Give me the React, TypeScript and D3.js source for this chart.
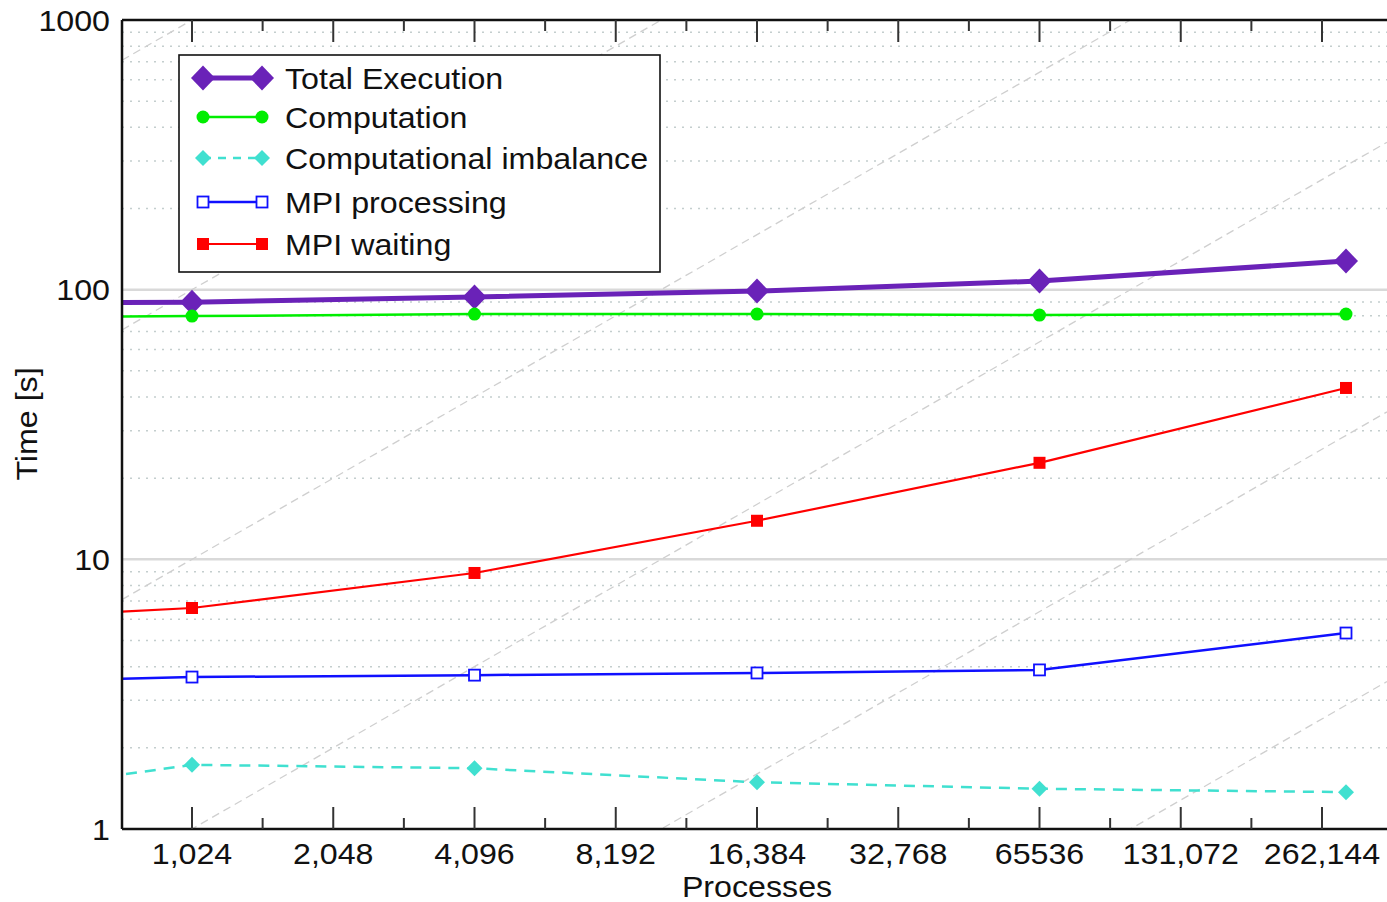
import React from "react";
import * as d3 from "d3";

// Process counts of the runs (the 512 run sits left of the visible range)
const processes = [512, 1024, 4096, 16384, 65536, 294912];

// Time breakdown per run, in seconds
const totalExecution = [89.2, 89.9, 93.9, 98.8, 107.6, 127.7];
const computation = [79.3, 79.8, 81.2, 81.2, 80.5, 81.2];
const imbalance = [1.46, 1.73, 1.68, 1.49, 1.41, 1.37];
const mpiProcessing = [3.55, 3.66, 3.72, 3.79, 3.89, 5.33];
const mpiWaiting = [6.2, 6.6, 8.9, 13.9, 22.8, 43.2];

// Axis ticks
const xMajorTicks = [1024, 2048, 4096, 8192, 16384, 32768, 65536, 131072, 262144];
const xTickLabels = ["1,024", "2,048", "4,096", "8,192", "16,384", "32,768", "65536", "131,072", "262,144"];
const yMajorTicks = [1, 10, 100, 1000];
const yTickLabels = ["1", "10", "100", "1000"];

// Linear-scaling guide lines: time = factor * P / 1024
const guideFactors = [0.01, 0.1, 1, 10, 100, 1000];

const W = 1387;
const H = 902;
const left = 122;
const right = 1387;
const top = 20;
const bottom = 829;

const pxPerDoubling = 141.25;
const x = d3
  .scaleLog()
  .base(2)
  .domain([
    1024 * Math.pow(2, (left - 192) / pxPerDoubling),
    1024 * Math.pow(2, (right - 192) / pxPerDoubling),
  ])
  .range([left, right]);
const y = d3.scaleLog().domain([1, 1000]).range([bottom, top]);

const FONT = "'Liberation Sans', Arial, Helvetica, sans-serif";
const STRETCH = 1.11;

function Label({ x: tx, y: ty, anchor = "start", rotate = 0, size = 29, children }: any) {
  return (
    <text
      transform={`translate(${tx},${ty}) rotate(${rotate}) scale(${STRETCH},1)`}
      textAnchor={anchor}
      fontFamily={FONT}
      fontSize={size}
      fill="#111"
    >
      {children}
    </text>
  );
}

const diamond = (cx: number, cy: number, w: number, h: number) =>
  `M${cx},${cy - h}L${cx + w},${cy}L${cx},${cy + h}L${cx - w},${cy}Z`;

type Marker = "diamond" | "bigDiamond" | "circle" | "openSquare" | "square";

function MarkerShape({ kind, cx, cy, color }: { kind: Marker; cx: number; cy: number; color: string }) {
  switch (kind) {
    case "bigDiamond":
      return <path d={diamond(cx, cy, 12, 12.5)} fill={color} />;
    case "diamond":
      return <path d={diamond(cx, cy, 8, 8)} fill={color} />;
    case "circle":
      return <circle cx={cx} cy={cy} r={6.5} fill={color} />;
    case "openSquare":
      return <rect x={cx - 5.5} y={cy - 5.5} width={11} height={11} fill="#fff" stroke={color} strokeWidth={1.8} />;
    case "square":
      return <rect x={cx - 6} y={cy - 6} width={12} height={12} fill={color} />;
  }
}

const series = [
  { name: "Total Execution", values: totalExecution, color: "#6a22b8", width: 5, dash: "", marker: "bigDiamond" as Marker, legendY: 78 },
  { name: "Computation", values: computation, color: "#00ee00", width: 2.5, dash: "", marker: "circle" as Marker, legendY: 117 },
  { name: "Computational imbalance", values: imbalance, color: "#40e0d0", width: 2.5, dash: "11,8", marker: "diamond" as Marker, legendY: 158 },
  { name: "MPI processing", values: mpiProcessing, color: "#1010ff", width: 2.5, dash: "", marker: "openSquare" as Marker, legendY: 202 },
  { name: "MPI waiting", values: mpiWaiting, color: "#ff0000", width: 2.2, dash: "", marker: "square" as Marker, legendY: 244 },
];

export default function App() {
  const line = d3
    .line<number>()
    .x((_, i) => x(processes[i]))
    .y((v) => y(v));

  const minorY: number[] = [];
  for (const dec of [1, 10, 100]) for (let m = 2; m <= 9; m++) minorY.push(dec * m);

  const xMinorTicks = xMajorTicks.slice(0, -1).map((p) => p * Math.SQRT2);
  const [pLo, pHi] = x.domain();

  return (
    <div style={{ position: "absolute", left: 0, top: 0 }}>
      <svg width={W} height={H} style={{ display: "block", background: "#fff" }}>
        <defs>
          <clipPath id="plot">
            <rect x={left} y={top} width={right - left} height={bottom - top} />
          </clipPath>
        </defs>

        {/* horizontal grid */}
        {minorY.map((v) => (
          <line key={"mg" + v} x1={left} x2={right} y1={y(v)} y2={y(v)} stroke="#c4cece" strokeWidth={1.5} strokeDasharray="2,6" />
        ))}
        {[10, 100].map((v) => (
          <line key={"Mg" + v} x1={left} x2={right} y1={y(v)} y2={y(v)} stroke="#d9d9d9" strokeWidth={2.5} />
        ))}

        {/* linear-scaling guides */}
        <g clipPath="url(#plot)">
          {guideFactors.map((f) => (
            <line
              key={"g" + f}
              x1={x(pLo)}
              y1={y((f * pLo) / 1024)}
              x2={x(pHi)}
              y2={y((f * pHi) / 1024)}
              stroke="#cfcfcf"
              strokeWidth={1.3}
              strokeDasharray="8,5"
            />
          ))}
        </g>

        {/* data series */}
        <g clipPath="url(#plot)">
          {series.map((s) => (
            <g key={s.name}>
              <path d={line(s.values) || ""} fill="none" stroke={s.color} strokeWidth={s.width} strokeDasharray={s.dash || undefined} strokeLinejoin="round" />
              {s.values.map((v, i) => (
                <MarkerShape key={i} kind={s.marker} cx={x(processes[i])} cy={y(v)} color={s.color} />
              ))}
            </g>
          ))}
        </g>

        {/* legend */}
        <rect x={179} y={55} width={481} height={217} fill="#fff" stroke="#111" strokeWidth={1.6} />
        {series.map((s) => (
          <g key={"lg" + s.name}>
            <line x1={203} x2={262} y1={s.legendY} y2={s.legendY} stroke={s.color} strokeWidth={s.width} strokeDasharray={s.dash ? "8,7" : undefined} />
            <MarkerShape kind={s.marker} cx={203} cy={s.legendY} color={s.color} />
            <MarkerShape kind={s.marker} cx={262} cy={s.legendY} color={s.color} />
            <Label x={285} y={s.legendY + 10.5}>{s.name}</Label>
          </g>
        ))}

        {/* frame */}
        <line x1={left} x2={left} y1={top} y2={bottom} stroke="#111" strokeWidth={2.5} />
        <line x1={left} x2={right} y1={bottom} y2={bottom} stroke="#111" strokeWidth={2.5} />
        <line x1={left} x2={right} y1={top} y2={top} stroke="#111" strokeWidth={2.5} />

        {/* x ticks, top and bottom */}
        {xMajorTicks.map((p) => (
          <g key={"xt" + p}>
            <line x1={x(p)} x2={x(p)} y1={bottom} y2={bottom - 22} stroke="#333" strokeWidth={2} />
            <line x1={x(p)} x2={x(p)} y1={top} y2={top + 22} stroke="#333" strokeWidth={2} />
          </g>
        ))}
        {xMinorTicks.map((p) => (
          <g key={"xm" + p}>
            <line x1={x(p)} x2={x(p)} y1={bottom} y2={bottom - 11} stroke="#333" strokeWidth={2} />
            <line x1={x(p)} x2={x(p)} y1={top} y2={top + 11} stroke="#333" strokeWidth={2} />
          </g>
        ))}

        {/* tick labels */}
        {xMajorTicks.map((p, i) => (
          <Label key={"xl" + p} x={x(p)} y={864} anchor="middle">
            {xTickLabels[i]}
          </Label>
        ))}
        {yMajorTicks.map((v, i) => (
          <Label key={"yl" + v} x={110} y={y(v) + 10.5} anchor="end">
            {yTickLabels[i]}
          </Label>
        ))}

        {/* axis titles */}
        <Label x={(left + 1392) / 2} y={897} anchor="middle">Processes</Label>
        <Label x={37} y={424} anchor="middle" rotate={-90}>Time [s]</Label>
      </svg>
    </div>
  );
}
